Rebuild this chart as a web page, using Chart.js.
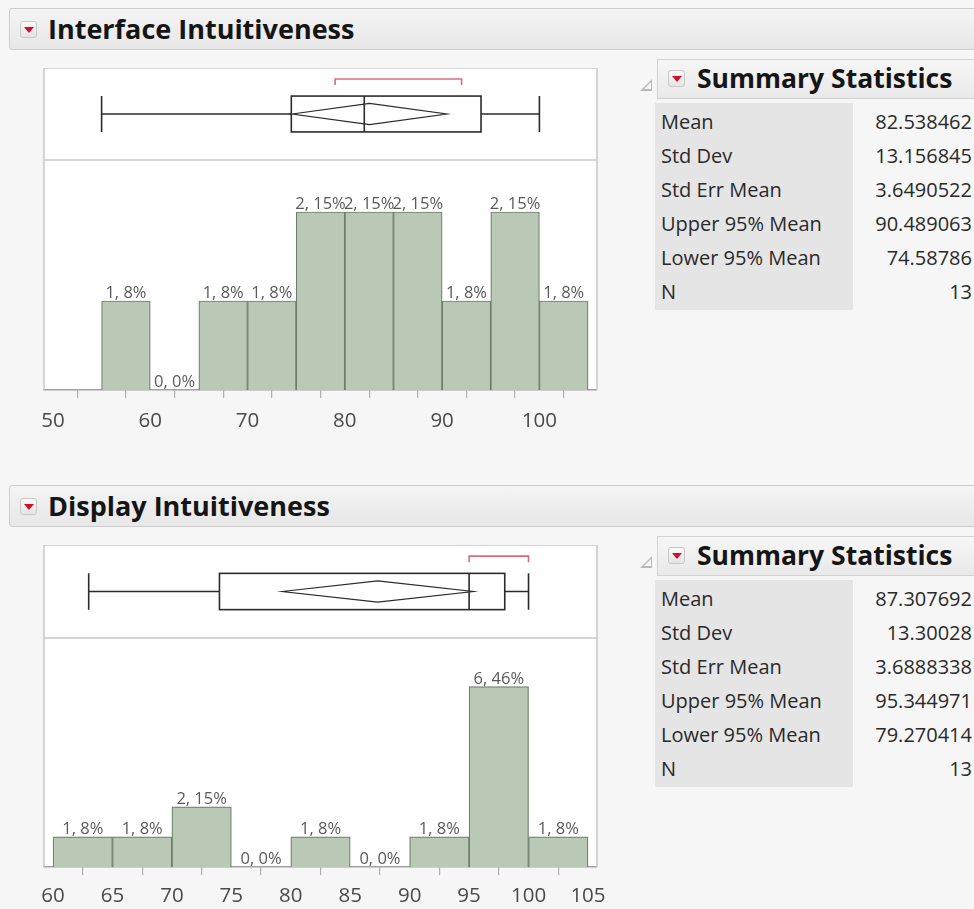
<!DOCTYPE html>
<html>
<head>
<meta charset="utf-8">
<script src="https://cdn.jsdelivr.net/npm/chart.js@4/dist/chart.umd.min.js"></script>
<style>
  html, body { margin: 0; padding: 0; }
  body { width: 974px; height: 909px; background: #f6f6f6; position: relative; overflow: hidden; font-family: "Open Sans", "DejaVu Sans", sans-serif; }
  .hdr { position: absolute; left: 9px; width: 1000px; height: 42px; background: linear-gradient(#f4f4f4, #e7e7e7); border: 1px solid #cdcdcd; border-radius: 3px; box-sizing: border-box; }
  .icon { position: absolute; width: 17px; height: 17px; border: 1px solid #c9c9c9; border-radius: 3px; background: linear-gradient(#fafafa, #e4e4e4); box-sizing: border-box; }
  .icon::after { content: ""; position: absolute; left: 3px; top: 5px; border-left: 5px solid transparent; border-right: 5px solid transparent; border-top: 6px solid #d0102a; }
  .title { position: absolute; font-weight: 700; color: #151515; white-space: nowrap; }
  .shdr { position: absolute; left: 657px; width: 340px; height: 40px; background: linear-gradient(#f6f6f6, #e9e9e9); border: 1px solid #d2d2d2; box-sizing: border-box; }
  .tri { position: absolute; width: 0; height: 0; border-left: 12px solid transparent; border-bottom: 12px solid #b9b9b9; }
  .tri::after { content: ""; position: absolute; left: -8px; top: 3px; border-left: 7px solid transparent; border-bottom: 7px solid #f6f6f6; }
  .labcol { position: absolute; left: 655px; width: 198px; background: #e5e5e5; }
  .row { position: absolute; font-size: 20px; color: #2a2a2a; white-space: nowrap; line-height: 34px; }
  canvas { position: absolute; }
</style>
</head>
<body>
<div class="hdr" style="top:8px"></div>
<div class="icon" style="left:20px; top:21px"></div>
<div class="title" style="left:48px; top:10px; font-size:27px; line-height:38px">Interface Intuitiveness</div>

<div class="hdr" style="top:485px"></div>
<div class="icon" style="left:20px; top:498px"></div>
<div class="title" style="left:48px; top:487px; font-size:27px; line-height:38px">Display Intuitiveness</div>

<canvas id="box1" width="620" height="92" style="left:0; top:68px"></canvas>
<canvas id="hist1" width="620" height="280" style="left:0; top:160px"></canvas>
<canvas id="box2" width="620" height="93" style="left:0; top:545px"></canvas>
<canvas id="hist2" width="620" height="271" style="left:0; top:638px"></canvas>

<div id="stats1"></div>
<div id="stats2"></div>

<script>
// ---------------- DATA ----------------
const topBinStarts = [55, 60, 65, 70, 75, 80, 85, 90, 95, 100];
const topCounts    = [1, 0, 1, 1, 2, 2, 2, 1, 2, 1];
const topBarLabels = ['1, 8%', '0, 0%', '1, 8%', '1, 8%', '2, 15%', '2, 15%', '2, 15%', '1, 8%', '2, 15%', '1, 8%'];
const topTicks      = [50, 55, 60, 65, 70, 75, 80, 85, 90, 95, 100, 105];
const topTickLabels = ['50', '', '60', '', '70', '', '80', '', '90', '', '100', ''];
const topQuantiles    = [55, 74.5, 82, 94, 100];          // min, Q1, median, Q3, max
const topMeanCI       = [74.58786, 82.538462, 90.489063]; // lower, mean, upper
const topShortestHalf = [79, 92];

const bottomBinStarts = [60, 65, 70, 75, 80, 85, 90, 95, 100];
const bottomCounts    = [1, 1, 2, 0, 1, 0, 1, 6, 1];
const bottomBarLabels = ['1, 8%', '1, 8%', '2, 15%', '0, 0%', '1, 8%', '0, 0%', '1, 8%', '6, 46%', '1, 8%'];
const bottomTicks      = [60, 65, 70, 75, 80, 85, 90, 95, 100, 105];
const bottomTickLabels = ['60', '65', '70', '75', '80', '85', '90', '95', '100', '105'];
const bottomQuantiles    = [63, 74, 95, 98, 100];
const bottomMeanCI       = [79.270414, 87.307692, 95.344971];
const bottomShortestHalf = [95, 100];

const binWidth = 5;

const statLabels       = ['Mean', 'Std Dev', 'Std Err Mean', 'Upper 95% Mean', 'Lower 95% Mean', 'N'];
const topStatValues    = ['82.538462', '13.156845', '3.6490522', '90.489063', '74.58786', '13'];
const bottomStatValues = ['87.307692', '13.30028', '3.6888338', '95.344971', '79.270414', '13'];

// ---------------- STATS TABLES (HTML) ----------------
function buildStats(id, top, values) {
  const host = document.getElementById(id);
  let html = '';
  html += `<div class="tri" style="left:640px; top:${top + 20}px"></div>`;
  html += `<div class="shdr" style="top:${top}px"></div>`;
  html += `<div class="icon" style="left:668px; top:${top + 11}px"></div>`;
  html += `<div class="title" style="left:697px; top:${top}px; font-size:26.5px; line-height:38px">Summary Statistics</div>`;
  const rowTop = top + 46, rowH = 34;
  html += `<div class="labcol" style="top:${rowTop - 2}px; height:${rowH * values.length + 3}px"></div>`;
  statLabels.forEach((lab, i) => {
    const y = rowTop + i * rowH;
    html += `<div class="row" style="left:661px; top:${y}px">${lab}</div>`;
    html += `<div class="row" style="right:2px; top:${y}px; text-align:right">${values[i]}</div>`;
  });
  host.innerHTML = html;
}
buildStats('stats1', 59, topStatValues);
buildStats('stats2', 536, bottomStatValues);

// ---------------- PLUGINS ----------------
const framePlugin = {
  id: 'frame',
  beforeDraw(chart) {
    const a = chart.chartArea, c = chart.ctx;
    c.save();
    c.fillStyle = '#ffffff';
    c.fillRect(a.left, a.top, a.right - a.left, a.bottom - a.top);
    c.restore();
  },
  afterDraw(chart, args, opts) {
    const a = chart.chartArea, c = chart.ctx;
    c.save();
    c.strokeStyle = '#c9c9c9';
    c.lineWidth = 1.5;
    c.beginPath();
    c.moveTo(a.left, a.bottom); c.lineTo(a.left, a.top); c.lineTo(a.right, a.top); c.lineTo(a.right, a.bottom);
    if (opts.closeBottom) c.lineTo(a.left, a.bottom);
    c.stroke();
    c.restore();
  }
};

const barLabelPlugin = {
  id: 'barLabels',
  afterDatasetsDraw(chart, args, opts) {
    const meta = chart.getDatasetMeta(0), c = chart.ctx;
    c.save();
    c.font = '16.5px "Open Sans"';
    c.fillStyle = '#5a5a5a';
    c.textAlign = 'center';
    c.textBaseline = 'bottom';
    meta.data.forEach((el, i) => {
      c.fillText(opts.labels[i], el.x, el.y + 0.5);
    });
    c.restore();
  }
};

const boxPlotPlugin = {
  id: 'boxPlot',
  afterDatasetsDraw(chart, args, o) {
    const xs = chart.scales.x, ys = chart.scales.y, c = chart.ctx;
    const px = v => xs.getPixelForValue(v), py = v => ys.getPixelForValue(v);
    const [mn, q1, md, q3, mx] = o.quantiles;
    const [lo, mean, hi] = o.meanCI;
    const [s0, s1] = o.shortestHalf;
    const yc = py(0.5), yt = py(0.695), yb = py(0.305);
    const dt = py(0.615), db = py(0.385);
    c.save();
    c.strokeStyle = '#2b2b2b';
    c.lineWidth = 1.6;
    c.beginPath();
    c.moveTo(px(mn), yc); c.lineTo(px(q1), yc);
    c.moveTo(px(q3), yc); c.lineTo(px(mx), yc);
    c.moveTo(px(mn), yt); c.lineTo(px(mn), yb);
    c.moveTo(px(mx), yt); c.lineTo(px(mx), yb);
    c.stroke();
    c.strokeRect(px(q1), yt, px(q3) - px(q1), yb - yt);
    c.beginPath(); c.moveTo(px(md), yt); c.lineTo(px(md), yb); c.stroke();
    c.lineWidth = 1.2;
    c.beginPath();
    c.moveTo(px(lo), yc); c.lineTo(px(mean), dt); c.lineTo(px(hi), yc); c.lineTo(px(mean), db); c.closePath();
    c.stroke();
    const ybr = py(0.88), ybt = py(0.815);
    c.strokeStyle = '#dc6b78';
    c.lineWidth = 1.6;
    c.beginPath();
    c.moveTo(px(s0), ybt); c.lineTo(px(s0), ybr); c.lineTo(px(s1), ybr); c.lineTo(px(s1), ybt);
    c.stroke();
    c.restore();
  }
};

// ---------------- CHARTS ----------------
function makeBox(id, xmin, xmax, quantiles, meanCI, shortestHalf) {
  new Chart(document.getElementById(id), {
    type: 'scatter',
    data: { datasets: [{ data: [], pointRadius: 0 }] },
    options: {
      responsive: false, animation: false,
      layout: { padding: { left: 44, right: 23, top: 0, bottom: 0 } },
      plugins: { legend: { display: false }, tooltip: { enabled: false },
        frame: { closeBottom: true },
        boxPlot: { quantiles, meanCI, shortestHalf } },
      scales: {
        x: { type: 'linear', min: xmin, max: xmax, display: false },
        y: { type: 'linear', min: 0, max: 1, display: false }
      }
    },
    plugins: [framePlugin, boxPlotPlugin]
  });
}

function makeHist(id, xmin, xmax, ymax, binStarts, counts, barLabels, ticks, tickLabels, axisH, tickPad) {
  const data = binStarts.map((s, i) => ({ x: s + binWidth / 2, y: counts[i] }));
  new Chart(document.getElementById(id), {
    type: 'bar',
    data: { datasets: [{
      data,
      backgroundColor: '#b9c9b5',
      borderColor: '#6e7d6c',
      borderWidth: 1.2,
      borderSkipped: 'bottom',
      barPercentage: 1.0,
      categoryPercentage: 1.0
    }] },
    options: {
      responsive: false, animation: false,
      layout: { padding: { left: 44, right: 23, top: 0, bottom: 0 } },
      plugins: { legend: { display: false }, tooltip: { enabled: false },
        frame: { closeBottom: false },
        barLabels: { labels: barLabels } },
      scales: {
        x: {
          type: 'linear', min: xmin, max: xmax, offset: false,
          afterBuildTicks: s => { s.ticks = ticks.map(v => ({ value: v })); },
          afterFit: s => { s.height = axisH; },
          border: { display: true, color: '#a2a2a2', width: 1.5 },
          grid: { display: true, drawOnChartArea: false, drawTicks: true, tickLength: 8, color: '#b0b0b0', lineWidth: 1.2 },
          ticks: {
            autoSkip: false, maxRotation: 0, padding: tickPad,
            color: '#4a4a4a', font: { family: '"Open Sans"', size: 20.5 },
            callback: (v, i) => tickLabels[i]
          }
        },
        y: { type: 'linear', min: 0, max: ymax, display: false }
      }
    },
    plugins: [framePlugin, barLabelPlugin]
  });
}

makeBox('box1', 49.08, 105.92, topQuantiles, topMeanCI, topShortestHalf);
makeHist('hist1', 49.08, 105.92, 2.584, topBinStarts, topCounts, topBarLabels, topTicks, topTickLabels, 50, 11);
makeBox('box2', 59.24, 105.76, bottomQuantiles, bottomMeanCI, bottomShortestHalf);
makeHist('hist2', 59.24, 105.76, 7.62, bottomBinStarts, bottomCounts, bottomBarLabels, bottomTicks, bottomTickLabels, 42, 9);
</script>
</body>
</html>
